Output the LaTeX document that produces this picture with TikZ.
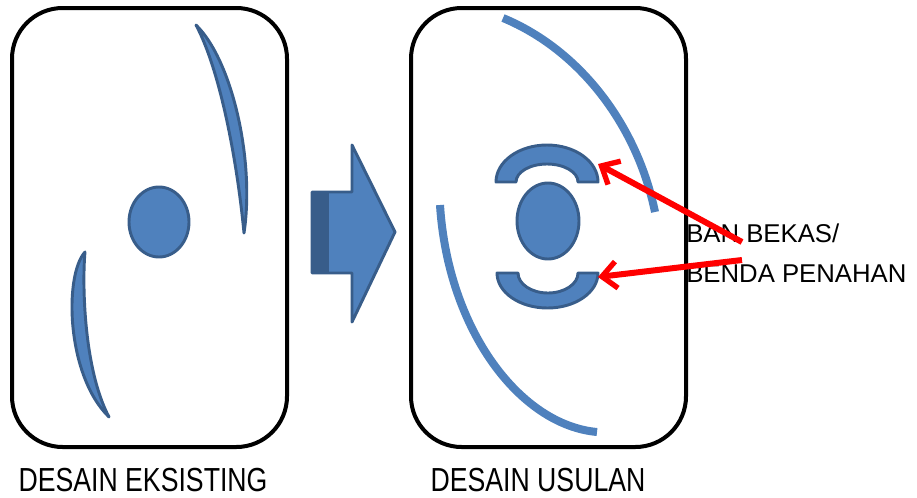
\documentclass[tikz,border=0pt]{standalone}
\usepackage{fontspec}
\setmainfont{Liberation Sans}
\usetikzlibrary{arrows.meta}
\definecolor{blueA}{HTML}{4F81BD}
\definecolor{blueD}{HTML}{385D8A}
\definecolor{redA}{HTML}{FF0000}
\begin{document}
\begin{tikzpicture}[x=0.75pt,y=-0.75pt,
  panel/.style={draw=black,line width=3pt,rounded corners=38pt},
  solid3d/.style={fill=blueA,draw=blueD,line width=2.2pt,line join=round},
  thickarc/.style={draw=blueA,line width=6pt},
  redarrow/.style={draw=redA,line width=4.5pt,-{Straight Barb[length=11pt,width=20pt,line width=4pt]}},
  sidelabel/.style={anchor=base west,inner sep=0pt,font=\fontsize{19.3pt}{23pt}\selectfont},
  caption/.style={inner sep=0pt,font=\fontsize{25pt}{29pt}\selectfont,xscale=0.8}]
\useasboundingbox (0,0) rectangle (917,497);
% panels
\draw[panel] (12,8) rectangle (287,447);
\draw[panel] (411,8) rectangle (686,447);
% left panel
\draw[solid3d] (159,222) ellipse [x radius=30, y radius=35];
\draw[solid3d] (196,25) .. controls (232,60) and (255,160) .. (244,233)
  .. controls (237,160) and (220,70) .. cycle;
\draw[solid3d] (85,252) .. controls (64,275) and (66,375) .. (109,417)
  .. controls (84,370) and (82,285) .. cycle;
% big arrow
\draw[solid3d] (312,192) -- (352,192) -- (352,145) -- (395,232) -- (352,322) -- (352,273) -- (312,273) -- cycle;
\fill[blueD] (312,192) rectangle (329,273);
% right panel
\draw[thickarc] (503,18) .. controls (580,50) and (637,125) .. (655,212);
\draw[thickarc] (440,205) .. controls (448,330) and (520,425) .. (597,432);
\draw[solid3d] (548,221) ellipse [x radius=31, y radius=38];
\draw[solid3d] (496,182) arc[start angle=180,end angle=360,x radius=51,y radius=37]
  -- (578,182) arc[start angle=0,end angle=-180,x radius=31,y radius=18] -- cycle;
\draw[solid3d] (497,273) arc[start angle=180,end angle=0,x radius=50.5,y radius=35]
  -- (578,273) arc[start angle=0,end angle=180,x radius=30,y radius=20] -- cycle;
\coordinate (topbump) at (598,164);
\coordinate (botbump) at (598,277);
\coordinate (tail1) at (742,242);
\coordinate (tail2) at (742,260);
% labels
\node[sidelabel] (lab1) at (686,242) {BAN BEKAS/};
\node[sidelabel] (lab2) at (686,282) {BENDA PENAHAN};
\draw[redarrow] (tail1) -- (topbump);
\draw[redarrow] (tail2) -- (botbump);
\node[caption] (cap1) at (143,480) {DESAIN EKSISTING};
\node[caption] (cap2) at (538,480) {DESAIN USULAN};
\end{tikzpicture}
\end{document}
